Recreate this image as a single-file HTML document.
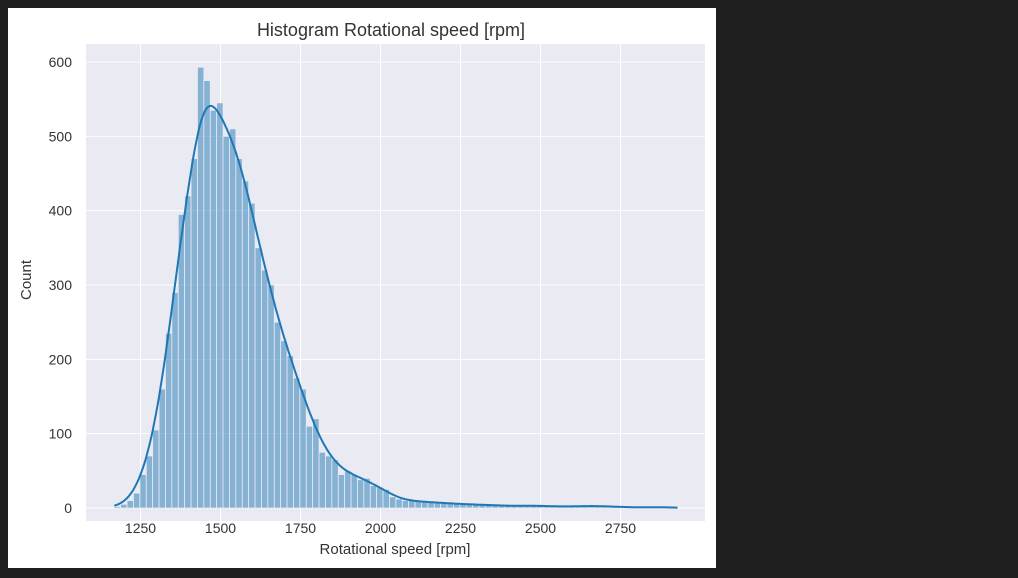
<!DOCTYPE html>
<html><head><meta charset="utf-8"><style>
body{margin:0;background:#1e1e1e;width:1018px;height:578px;overflow:hidden;font-family:"Liberation Sans",sans-serif}
#fig{position:absolute;left:8px;top:8px;width:708px;height:560px;background:#fff}
svg{position:absolute;left:0;top:0}
</style></head><body>
<div id="fig"></div>
<svg id="chart" width="1018" height="578"></svg>
<script>
const binStart = 1168;
const binWidth = 20;
const counts = [2,5,10,20,45,70,105,160,235,290,395,420,470,593,575,535,545,500,510,470,440,410,350,320,300,250,225,205,175,160,110,120,75,70,65,45,50,45,38,40,30,28,25,15,12,10,10,9,8,8,7,7,6,6,5,5,5,4,4,4,3,3,3,3,3,3,3,3,2,2,2,2,2,3,3,3,2,2,2,1,1,1,1,1,1,1,1,1];
const xTicks = [1250,1500,1750,2000,2250,2500,2750];
const yTicks = [0,100,200,300,400,500,600];
const titleText = "Histogram Rotational speed [rpm]";

const NS="http://www.w3.org/2000/svg";
const svg=document.getElementById('chart');
const L=86,R=705,T=44,B=521;
const xs=v=>140.5+(v-1250)*0.32;
const ys=v=>508-v*0.7433;
function mk(tag,attrs,parent){const e=document.createElementNS(NS,tag);for(const k in attrs)e.setAttribute(k,attrs[k]);(parent||svg).appendChild(e);return e;}
const bg=mk('rect',{x:L,y:T,width:R-L,height:B-T,fill:'#eaeaf2'});


xTicks.forEach(t=>{const l=mk('line',{x1:xs(t),x2:xs(t),y1:T,y2:B,stroke:'#fff','stroke-width':1});


const tx=mk('text',{x:xs(t),y:533,'text-anchor':'middle','font-size':14,fill:'#333'});tx.textContent=t;

});
yTicks.forEach(t=>{const l=mk('line',{x1:L,x2:R,y1:ys(t),y2:ys(t),stroke:'#fff','stroke-width':1});


const tx=mk('text',{x:72,y:ys(t)+5,'text-anchor':'end','font-size':14,fill:'#333'});tx.textContent=t;

});
counts.forEach((c,i)=>{const x0=xs(binStart+i*binWidth),x1=xs(binStart+(i+1)*binWidth);
const r=mk('rect',{x:x0,y:ys(c),width:x1-x0,height:ys(0)-ys(c),fill:'rgba(31,119,180,0.5)',stroke:'#eaeaf2','stroke-width':0.8});

});
const bw=34;let pts=[];
for(let v=binStart;v<=binStart+counts.length*binWidth;v+=4){let s=0;counts.forEach((c,i)=>{const m=binStart+(i+0.5)*binWidth;const z=(v-m)/bw;s+=c*Math.exp(-0.5*z*z);});
s=s*binWidth/(bw*Math.sqrt(2*Math.PI));pts.push(xs(v).toFixed(1)+','+ys(s).toFixed(1));}
const kde=mk('polyline',{points:pts.join(' '),fill:'none',stroke:'#1f77b4','stroke-width':2});


const ti=mk('text',{x:391,y:36,'text-anchor':'middle','font-size':18,fill:'#333'});ti.textContent=titleText;


const xl=mk('text',{x:395,y:554,'text-anchor':'middle','font-size':15,fill:'#333'});xl.textContent="Rotational speed [rpm]";


const yl=mk('text',{x:31,y:280,'text-anchor':'middle','font-size':15,fill:'#333',transform:'rotate(-90 31 280)'});yl.textContent="Count";


</script>
</body></html>
